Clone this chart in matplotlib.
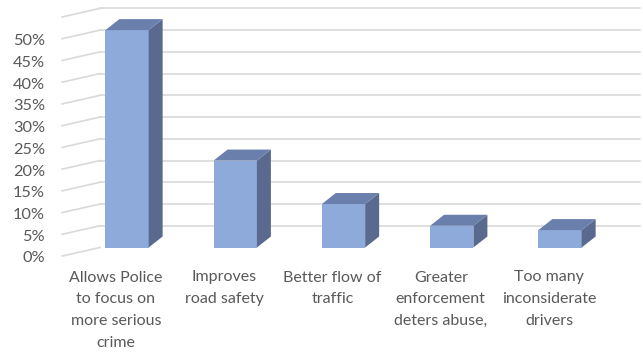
import matplotlib
matplotlib.use("Agg")
import matplotlib.pyplot as plt
from matplotlib.patches import Polygon
from matplotlib.transforms import ScaledTranslation

categories = [
    "Allows Police\nto focus on\nmore serious\ncrime",
    "Improves\nroad safety",
    "Better flow of\ntraffic",
    "Greater\nenforcement\ndeters abuse,",
    "Too many\ninconsiderate\ndrivers",
]
values = [0.50, 0.20, 0.10, 0.05, 0.04]
tick_values = [0.00, 0.05, 0.10, 0.15, 0.20, 0.25, 0.30, 0.35, 0.40, 0.45, 0.50]
tick_labels = ["0%", "5%", "10%", "15%", "20%", "25%", "30%", "35%", "40%", "45%", "50%"]
grid_values = [0.05, 0.10, 0.15, 0.20, 0.25, 0.30, 0.35, 0.40, 0.45, 0.50, 0.55]

FRONT = "#8eaadb"
SIDE = "#5a6a8e"
TOP = "#6a7fab"
GRID = "#d9d9d9"
TEXT = "#595959"

plt.rcParams["font.family"] = ["Lato", "DejaVu Sans"]

W, H, DPI = 643, 356, 100
fig = plt.figure(figsize=(W / DPI, H / DPI), dpi=DPI)

# plot area: back wall from x=100px to 640px, value 0 at y=247.5px, 55% at 8.4px
left_px, right_px, top_px, bottom_px = 100, 640, 8.4, 247.5
ax = fig.add_axes([left_px / W, 1 - bottom_px / H,
                   (right_px - left_px) / W, (bottom_px - top_px) / H])
step_px = 108.25
first_px = 127
x0 = (left_px - first_px) / step_px
x1 = (right_px - first_px) / step_px
ax.set_xlim(x0, x1)
ax.set_ylim(0, 0.55)
ax.axis("off")

px_x = step_px                       # pixels per category unit
px_y = (bottom_px - top_px) / 0.55   # pixels per value unit


def off(dx_px, dy_px):
    """Pixel offset (right, up) as a display translation."""
    return ax.transData + ScaledTranslation(dx_px / DPI, dy_px / DPI, fig.dpi_scale_trans)


# back wall gridlines and the slanted side-wall lines
diag_dx, diag_dy = 38 / px_x, 8.6 / px_y
for v in grid_values:
    ax.plot([x0, x1], [v, v], color=GRID, lw=1.2, zorder=1, clip_on=False)
for v in [0.0] + grid_values:
    ax.plot([x0 - diag_dx, x0], [v - diag_dy, v], color=GRID, lw=1.2,
            zorder=1, clip_on=False)

for v, lab in zip(tick_values, tick_labels):
    ax.text(x0, v, lab, transform=off(-55, -11), ha="right", va="center",
            fontsize=11.8, color=TEXT, clip_on=False)

# 3-D style columns
width = 0.4
depth_dx, depth_dy = 14 / px_x, 11 / px_y
xs = list(range(len(values)))
ax.bar(xs, values, width=width, color=FRONT, zorder=3, linewidth=0)
for x, v in zip(xs, values):
    r = x + width / 2
    l = x - width / 2
    side = Polygon([(r, 0), (r + depth_dx, depth_dy), (r + depth_dx, v + depth_dy), (r, v)],
                   closed=True, facecolor=SIDE, edgecolor="none", zorder=3)
    top = Polygon([(l, v), (r, v), (r + depth_dx, v + depth_dy), (l + depth_dx, v + depth_dy)],
                  closed=True, facecolor=TOP, edgecolor="none", zorder=3)
    ax.add_patch(side)
    ax.add_patch(top)

# category labels under the floor
for x, lab in zip(xs, categories):
    ax.text(x, 0, lab, transform=off(-11, -23), ha="center", va="top",
            fontsize=11.5, color=TEXT, linespacing=1.72, clip_on=False)

fig.savefig("out.png", dpi=DPI, facecolor="white")
